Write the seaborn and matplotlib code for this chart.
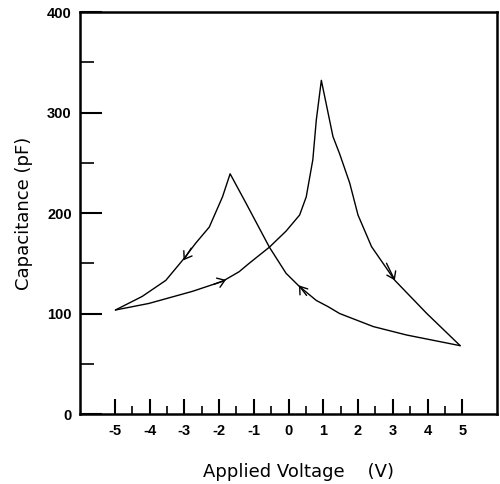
import matplotlib
matplotlib.use("Agg")
import matplotlib.pyplot as plt
import seaborn as sns
import pandas as pd
import numpy as np
from matplotlib.ticker import FixedLocator

# Forward sweep (-5 V -> +5 V)
fwd_v = [-4.98, -4.02, -2.77, -1.90, -1.42, -1.13, -0.55, -0.07, 0.32, 0.51, 0.70, 0.80, 0.945, 1.28, 1.47, 1.76, 2.00, 2.39, 3.06, 3.98, 4.94]
fwd_c = [103.5, 110, 122, 132, 141.6, 150, 166, 182, 198, 216, 253, 292.5, 332, 276, 259, 230, 198, 166.5, 133, 100, 68]
# Reverse sweep (+5 V -> -5 V)
rev_v = [4.94, 4.36, 3.40, 2.44, 1.47, 1.14, 0.80, 0.32, -0.07, -0.55, -1.22, -1.68, -1.90, -2.28, -2.67, -3.00, -3.53, -4.21, -4.98]
rev_c = [68, 72, 78.6, 87, 100, 106.8, 113, 126.7, 140, 166, 209.6, 239, 216, 186, 170, 155, 133, 117, 103.5]

# Direction arrows: (tail, head) points
arrow_tail_v = [-2.15, 2.82, 0.52, -2.80]
arrow_tail_c = [129, 150, 118, 165]
arrow_head_v = [-1.80, 3.06, 0.30, -3.02]
arrow_head_c = [133.5, 133, 128, 153]

x_ticks = [-5, -4, -3, -2, -1, 0, 1, 2, 3, 4, 5]
x_minor = [-4.5, -3.5, -2.5, -1.5, -0.5, 0.5, 1.5, 2.5, 3.5, 4.5]
y_ticks = [0, 100, 200, 300, 400]
y_minor = [50, 150, 250, 350]

df = pd.concat([
    pd.DataFrame({"V": fwd_v, "C": fwd_c, "sweep": "forward"}),
    pd.DataFrame({"V": rev_v, "C": rev_c, "sweep": "reverse"}),
])

sns.set_style("white")
plt.rcParams["font.family"] = ["Liberation Sans", "DejaVu Sans"]
plt.rcParams["text.color"] = "black"
plt.rcParams["axes.labelcolor"] = "black"
plt.rcParams["xtick.color"] = "black"
plt.rcParams["ytick.color"] = "black"

fig = plt.figure(figsize=(5.0, 4.84), dpi=100)
ax = fig.add_axes([0.16, 0.1446, 0.834, 0.8306])

for name, sub in df.groupby("sweep"):
    sns.lineplot(data=sub, x="V", y="C", sort=False, estimator=None,
                 color="black", linewidth=1.0, ax=ax)

for tv, tc, hv, hc in zip(arrow_tail_v, arrow_tail_c, arrow_head_v, arrow_head_c):
    ax.annotate("", xy=(hv, hc), xytext=(tv, tc),
                arrowprops=dict(arrowstyle="->,head_length=0.5,head_width=0.35",
                                color="black", lw=1.0, shrinkA=0, shrinkB=0))

ax.set_xlim(-6, 6)
ax.set_ylim(0, 400)
ax.set_xticks(x_ticks)
ax.set_xticklabels([str(t) for t in x_ticks])
ax.set_yticks(y_ticks)
ax.set_yticklabels([str(t) for t in y_ticks])
ax.xaxis.set_minor_locator(FixedLocator(x_minor))
ax.yaxis.set_minor_locator(FixedLocator(y_minor))

ax.tick_params(axis="x", which="major", direction="in", length=11, width=1.5,
               bottom=True, top=False, labelsize=10.5, pad=7, colors="black")
ax.tick_params(axis="x", which="minor", direction="in", length=6, width=1.2,
               bottom=True, top=False, colors="black")
ax.tick_params(axis="y", which="major", direction="in", length=16, width=1.5,
               left=True, right=False, labelsize=10.5, pad=6, colors="black")
ax.tick_params(axis="y", which="minor", direction="in", length=10, width=1.2,
               left=True, right=False, colors="black")
for lab in ax.get_xticklabels() + ax.get_yticklabels():
    lab.set_fontweight("bold")

for side in ["left", "bottom", "right", "top"]:
    ax.spines[side].set_visible(True)
    ax.spines[side].set_color("black")
    ax.spines[side].set_linewidth(1.8)

ax.set_xlabel("Applied Voltage    (V)", fontsize=13, labelpad=18,
              family=["DejaVu Sans"], color="black")
ax.xaxis.label.set_x(0.525)
ax.set_ylabel("Capacitance (pF)", fontsize=13, labelpad=10,
              family=["DejaVu Sans"], color="black")
ax.grid(False)

fig.savefig("out.png", dpi=100)
